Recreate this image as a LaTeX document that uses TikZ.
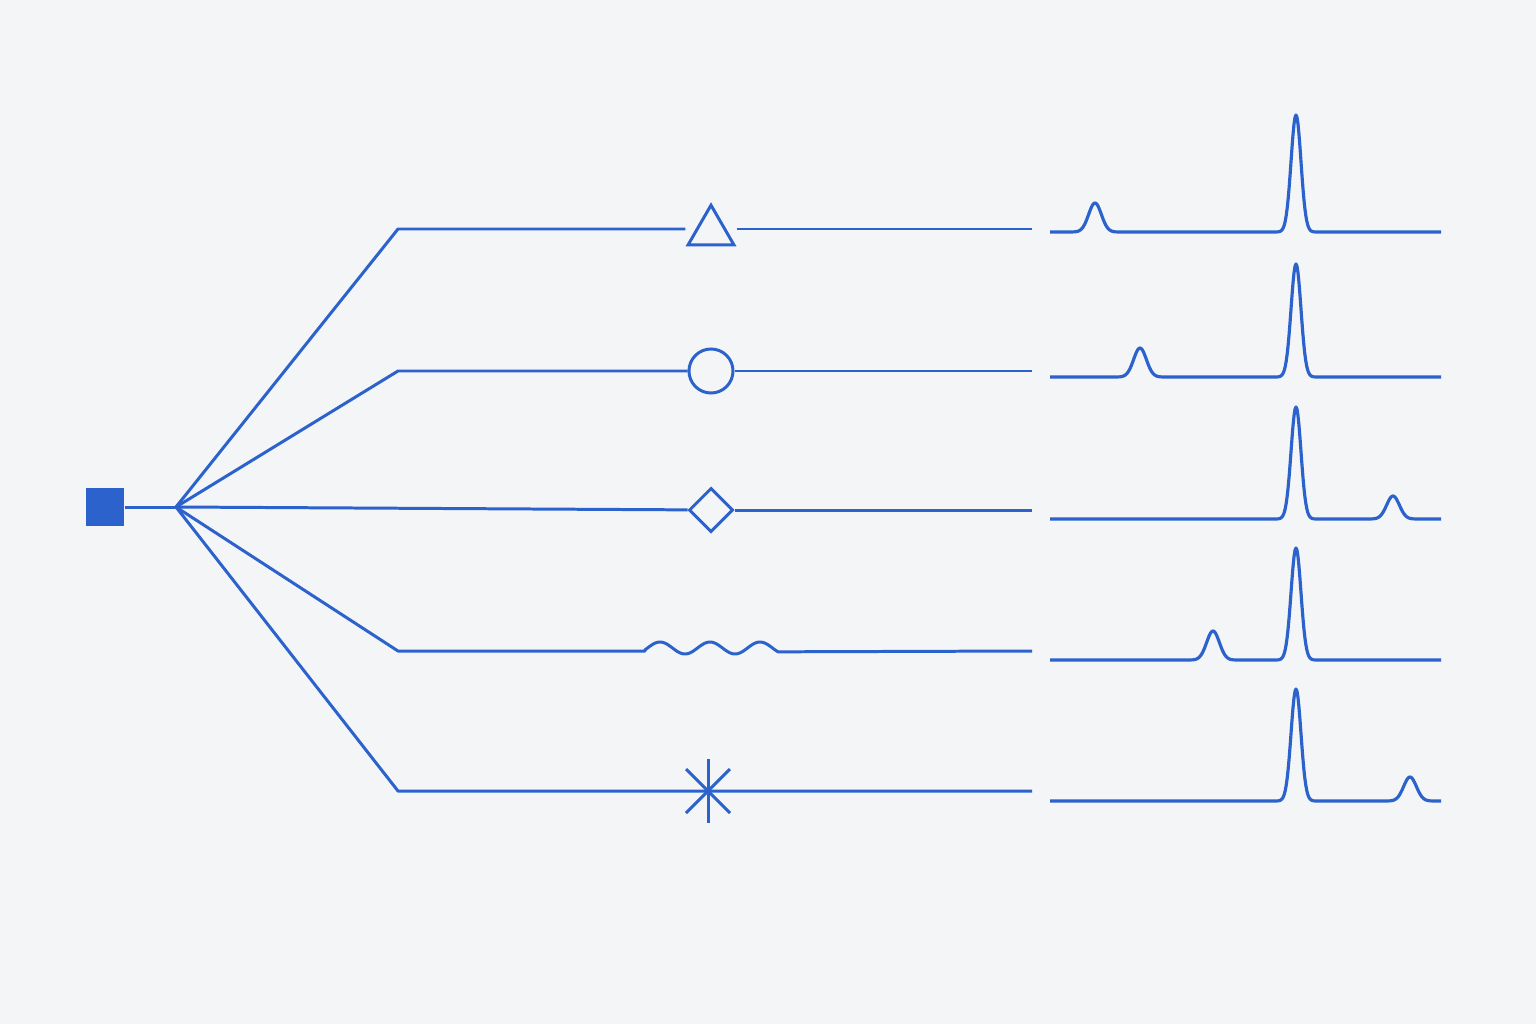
\documentclass[tikz,border=0pt]{standalone}
\usetikzlibrary{shapes.geometric}

\definecolor{ink}{RGB}{43,98,204}
\definecolor{paper}{RGB}{243,245,247}

\tikzstyle{wire} = [draw=ink, line width=0.85pt, line join=round]
\tikzstyle{source} = [rectangle, fill=ink, minimum size=.38cm, inner sep=0pt]
\tikzstyle{tri} = [regular polygon, regular polygon sides=3, draw=ink,
    line width=0.85pt, minimum size=.53cm, inner sep=0pt]
\tikzstyle{ring} = [circle, draw=ink, line width=0.85pt,
    minimum size=.44cm, inner sep=0pt]
\tikzstyle{rhomb} = [diamond, draw=ink, line width=0.85pt,
    minimum width=.44cm, minimum height=.44cm, inner sep=0pt]
\tikzstyle{trace} = [draw=ink, line width=0.9pt, line join=round]

\begin{document}
\begin{tikzpicture}[x=.01cm, y=-.01cm]
	\fill [paper] (0,0) rectangle (1536,1024);
	\useasboundingbox (0,0) rectangle (1536,1024);
	%
	\node [source] (src) at (105,507) {};
	\coordinate (hub) at (176,507);
	%
	\coordinate (b1) at (398,229);
	\coordinate (b2) at (398,371);
	\coordinate (b4) at (398,651);
	\coordinate (b5) at (398,791);
	%
	\coordinate (e1) at (1032,229);
	\coordinate (e2) at (1032,371);
	\coordinate (e3) at (1032,510);
	\coordinate (e4) at (1032,651);
	\coordinate (e5) at (1032,791);
	%
	\node [tri] (t) at (711,231.7) {};
	\node [ring] (c) at (711,371) {};
	\node [rhomb] (d) at (711,510) {};
	\coordinate (st) at (708,791);
	%
	\draw [wire] (src) -- (hub);
	\draw [wire] (hub) -- (b1) -- (t.corner 2 |- b1);
	\draw [wire] (t.corner 3 |- e1) -- (e1);
	\draw [wire] (hub) -- (b2) -- (c);
	\draw [wire] (c) -- (e2);
	\draw [wire] (hub) -- (d);
	\draw [wire] (d) -- (e3);
	\draw [wire] (hub) -- (b4) -- (645,651)
		-- plot [domain=645:778, samples=80] (\x, {648-6*sin(7.2*(\x-647.5))})
		-- (e4);
	\draw [wire] (hub) -- (b5) -- (e5);
	%
	\draw [wire] (st) +(0,-32) -- +(0,32);
	\draw [wire] (st) +(-22,-22) -- +(22,22);
	\draw [wire] (st) +(-22,22) -- +(22,-22);
	%
	\foreach \yb/\c/\h/\H in {232/1095/29/117, 377/1140/29/113,
	    519/1393/23/112, 660/1213/29/112, 801/1410/24/112}
		\draw [trace] plot [domain=1050:1441, samples=400]
			(\x, {\yb - \h*exp(-min(((\x-\c)/9)*((\x-\c)/9),20))
			- \H*exp(-min(((\x-1296)/7)*((\x-1296)/7),20))});
\end{tikzpicture}
\end{document}
